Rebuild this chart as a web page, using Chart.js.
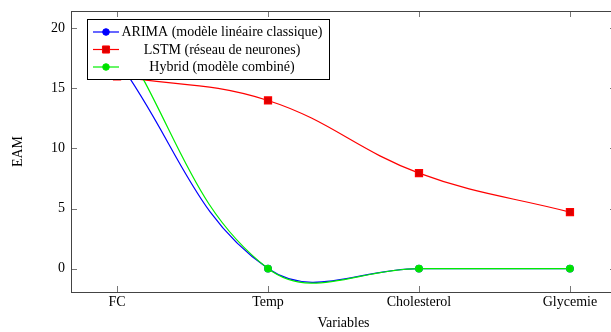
<!DOCTYPE html>
<html>
<head>
    <title>EAM par variable</title>
    <script src="https://cdn.jsdelivr.net/npm/chart.js@4.4.0/dist/chart.umd.min.js"></script>
    <style>
        body {
            margin: 0;
            background: #FFFFFF;
            overflow: hidden;
        }
        #chart-div {
            width: 617px;
            height: 332px;
        }
    </style>
</head>
<body>
    <div id="chart-div"><canvas id="chart" width="617" height="332"></canvas></div>

<script type="text/javascript">
    const categories = ['FC', 'Temp', 'Cholesterol', 'Glycemie'];
    const arimaValues = [17.4, 0, 0, 0];
    const lstmValues = [16.0, 14.0, 7.95, 4.7];
    const hybridValues = [19.5, 0, 0, 0];
    const yTicks = [0, 5, 10, 15, 20];

    const serif = 'Liberation Serif';

    function toPoints(values) {
        return values.map((v, i) => ({x: i, y: v}));
    }

    // pgfplots style frame: full box with inward ticks on all four sides, plus the legend
    const framePlugin = {
        id: 'frame',
        afterDraw(chart) {
            const ctx = chart.ctx;
            const area = chart.chartArea;
            const xs = chart.scales.x;
            const ys = chart.scales.y;
            ctx.save();
            ctx.strokeStyle = '#777777';
            ctx.lineWidth = 1;
            ctx.beginPath();
            categories.forEach((c, i) => {
                const px = Math.round(xs.getPixelForValue(i)) + 0.5;
                ctx.moveTo(px, area.bottom);
                ctx.lineTo(px, area.bottom - 6);
                ctx.moveTo(px, area.top);
                ctx.lineTo(px, area.top + 6);
            });
            yTicks.forEach(v => {
                const py = Math.round(ys.getPixelForValue(v)) + 0.5;
                ctx.moveTo(area.left, py);
                ctx.lineTo(area.left + 6, py);
                ctx.moveTo(area.right, py);
                ctx.lineTo(area.right - 6, py);
            });
            ctx.stroke();
            ctx.strokeStyle = '#444444';
            ctx.strokeRect(area.left + 0.5, area.top + 0.5, area.right - area.left - 1, area.bottom - area.top);
            ctx.restore();

            // legend box, top left inside the axes
            const datasets = chart.data.datasets;
            ctx.save();
            ctx.fillStyle = '#FFFFFF';
            ctx.fillRect(87.5, 19.5, 242, 60);
            ctx.strokeStyle = '#000000';
            ctx.lineWidth = 1;
            ctx.strokeRect(87.5, 19.5, 242, 60);
            ctx.font = '14px "' + serif + '"';
            ctx.textAlign = 'center';
            ctx.textBaseline = 'middle';
            datasets.forEach((ds, i) => {
                const y = 32 + i * 17.5;
                ctx.strokeStyle = ds.borderColor;
                ctx.lineWidth = ds.borderWidth;
                ctx.beginPath();
                ctx.moveTo(93, y);
                ctx.lineTo(119, y);
                ctx.stroke();
                ctx.fillStyle = ds.pointBackgroundColor;
                ctx.strokeStyle = ds.pointBorderColor;
                ctx.lineWidth = 1;
                Chart.helpers.drawPoint(ctx, {
                    pointStyle: ds.pointStyle,
                    radius: ds.pointRadius,
                    borderWidth: 1,
                    rotation: 0
                }, 106, y);
                ctx.fillStyle = '#000000';
                ctx.fillText(ds.label, 222, y + 0.5);
            });
            ctx.restore();
        }
    };

    let chart = new Chart(document.getElementById('chart').getContext('2d'), {
        type: 'line',
        data: {
            datasets: [
                {
                    label: 'ARIMA (modèle linéaire classique)',
                    data: toPoints(arimaValues),
                    borderColor: '#0000FF',
                    pointBackgroundColor: '#0000FF',
                    pointBorderColor: '#0000FF',
                    pointStyle: 'circle',
                    pointRadius: 3.3,
                    borderWidth: 1.2,
                    tension: 0.4,
                    capBezierPoints: false,
                    order: 2
                },
                {
                    label: 'LSTM (réseau de neurones)',
                    data: toPoints(lstmValues),
                    borderColor: '#FF0000',
                    pointBackgroundColor: '#DD0000',
                    pointBorderColor: '#FF0000',
                    pointStyle: 'rect',
                    pointRadius: 5,
                    borderWidth: 1.2,
                    tension: 0.4,
                    capBezierPoints: false,
                    order: 1
                },
                {
                    label: 'Hybrid (modèle combiné)',
                    data: toPoints(hybridValues),
                    borderColor: '#00EE00',
                    pointBackgroundColor: '#00DD00',
                    pointBorderColor: '#00EE00',
                    pointStyle: 'circle',
                    pointRadius: 3.3,
                    borderWidth: 1.2,
                    tension: 0.4,
                    capBezierPoints: false,
                    order: 0
                }
            ]
        },
        options: {
            responsive: false,
            animation: false,
            devicePixelRatio: 1,
            layout: {
                autoPadding: false,
                padding: {top: 11, right: 1, left: 0, bottom: 0}
            },
            plugins: {
                legend: {display: false},
                tooltip: {enabled: false}
            },
            scales: {
                x: {
                    type: 'linear',
                    min: -0.305,
                    max: 3.305,
                    afterBuildTicks: s => { s.ticks = categories.map((c, i) => ({value: i})); },
                    afterFit: s => {
                        s.height = 40;
                        s.paddingLeft = 0;
                        s.paddingRight = 0;
                    },
                    ticks: {
                        callback: v => categories[v],
                        autoSkip: false,
                        maxRotation: 0,
                        padding: 2,
                        color: '#000000',
                        font: {family: serif, size: 14}
                    },
                    grid: {display: false, drawTicks: false},
                    border: {display: false},
                    title: {
                        display: true,
                        text: 'Variables',
                        color: '#000000',
                        padding: {top: 0, bottom: 0},
                        font: {family: serif, size: 14}
                    }
                },
                y: {
                    min: -1.95,
                    max: 21.45,
                    afterBuildTicks: s => { s.ticks = yTicks.map(v => ({value: v})); },
                    afterFit: s => {
                        s.width = 71;
                        s.paddingTop = 0;
                        s.paddingBottom = 0;
                    },
                    ticks: {
                        padding: 6,
                        color: '#000000',
                        font: {family: serif, size: 14}
                    },
                    grid: {display: false, drawTicks: false},
                    border: {display: false},
                    title: {
                        display: true,
                        text: 'EAM',
                        color: '#000000',
                        padding: {top: 10, bottom: 0},
                        font: {family: serif, size: 14}
                    }
                }
            }
        },
        plugins: [framePlugin]
    });
</script>

</body>
</html>
